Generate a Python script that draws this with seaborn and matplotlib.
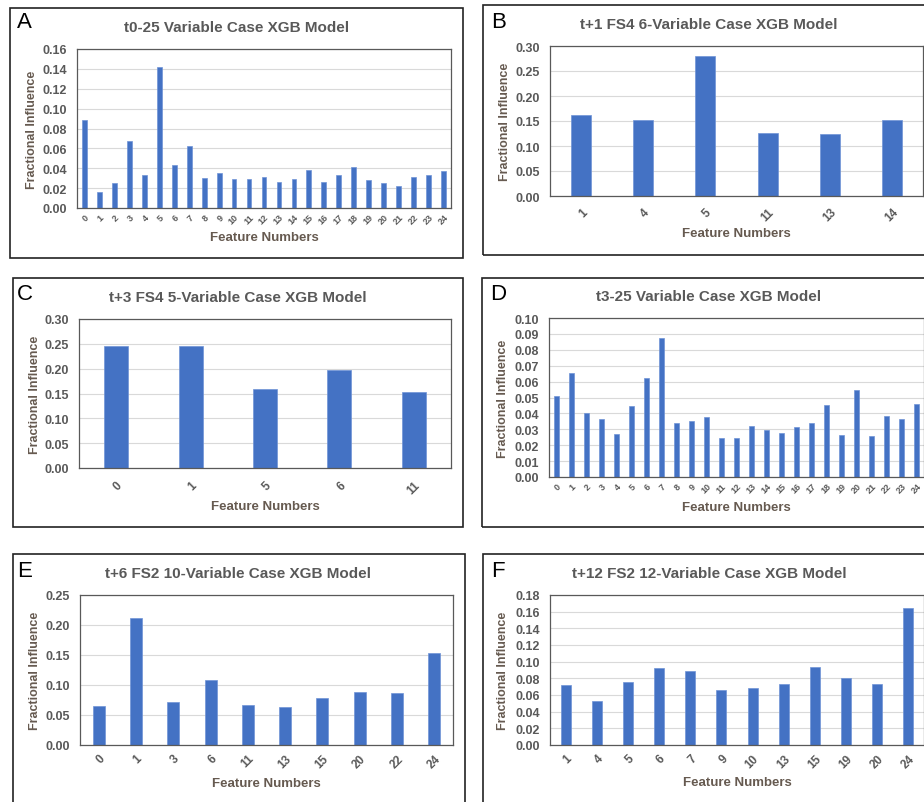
import numpy as np
import pandas as pd
import seaborn as sns
import matplotlib.pyplot as plt
from matplotlib.patches import Rectangle
from matplotlib.ticker import MultipleLocator, FormatStrFormatter

# Feature numbers and fractional influence, one pair of lists per panel
featA = ['0', '1', '2', '3', '4', '5', '6', '7', '8', '9', '10', '11', '12',
         '13', '14', '15', '16', '17', '18', '19', '20', '21', '22', '23', '24']
valsA = [0.089, 0.016, 0.025, 0.0676, 0.0328, 0.142, 0.0432, 0.0623, 0.030,
         0.035, 0.0288, 0.0295, 0.031, 0.0264, 0.0288, 0.038, 0.0264, 0.0328,
         0.0415, 0.028, 0.025, 0.0218, 0.031, 0.0328, 0.0375]

featB = ['1', '4', '5', '11', '13', '14']
valsB = [0.162, 0.153, 0.280, 0.127, 0.124, 0.153]

featC = ['0', '1', '5', '6', '11']
valsC = [0.2456, 0.2456, 0.160, 0.1966, 0.1537]

featD = ['0', '1', '2', '3', '4', '5', '6', '7', '8', '9', '10', '11', '12',
         '13', '14', '15', '16', '17', '18', '19', '20', '21', '22', '23', '24']
valsD = [0.0512, 0.0654, 0.0403, 0.0367, 0.0268, 0.0449, 0.0625, 0.0874,
         0.0338, 0.0352, 0.0377, 0.0243, 0.0243, 0.0323, 0.0298, 0.0275,
         0.0312, 0.0338, 0.0453, 0.0264, 0.0545, 0.026, 0.0384, 0.0367, 0.0461]

featE = ['0', '1', '3', '6', '11', '13', '15', '20', '22', '24']
valsE = [0.0651, 0.212, 0.0713, 0.108, 0.0674, 0.0635, 0.078, 0.0885,
         0.0874, 0.153]

featF = ['1', '4', '5', '6', '7', '9', '10', '13', '15', '19', '20', '24']
valsF = [0.0726, 0.0525, 0.0754, 0.0926, 0.0886, 0.0666, 0.0686, 0.0738,
         0.0934, 0.0802, 0.0738, 0.1648]

titles = ['t0-25 Variable Case XGB Model',
          't+1 FS4 6-Variable Case XGB Model',
          't+3 FS4 5-Variable Case XGB Model',
          't3-25 Variable Case XGB Model',
          't+6 FS2 10-Variable Case XGB Model',
          't+12 FS2 12-Variable Case XGB Model']
letters = ['A', 'B', 'C', 'D', 'E', 'F']
ymaxes = [0.16, 0.30, 0.30, 0.10, 0.25, 0.18]
ysteps = [0.02, 0.05, 0.05, 0.01, 0.05, 0.02]

sns.set_style("white")
plt.rcParams['font.family'] = ['Liberation Sans', 'DejaVu Sans']

W, H = 924, 803
fig = plt.figure(figsize=(W / 100, H / 100), dpi=100)

BAR = '#4472C4'
TXT = '#595959'
LAB = '#665a50'

# layout in pixels: box (l, t, r, b), plot area (l, t, r, b), title, letter, axis labels
boxes = [(10, 9, 463, 259), (483, 6, 940, 256), (13, 279, 463, 528),
         (482, 279, 940, 528), (13, 555, 465, 812), (483, 555, 940, 812)]
areas = [(77, 50, 451, 209), (550, 47, 923, 197), (79, 320, 451, 469),
         (549, 319, 924, 478), (80, 596, 453, 746), (550, 596, 924, 746)]
title_y = [28, 25, 298, 297, 574, 574]
title_x = [237, 709, 238, 709, 238, 709]
letter_xy = [(17, 22), (491, 22), (17, 294), (490, 295), (17, 572), (491, 572)]
xlab_y = [238, 234, 507, 508, 784, 783]
ylab_x = [32, 505, 35, 503, 35, 503]
xtick_size = [6.5, 8.5, 8.5, 6.5, 8.5, 8.5]
xtick_pad = [3, 7, 8, 3, 5, 5]

feats = [featA, featB, featC, featD, featE, featF]
vals = [valsA, valsB, valsC, valsD, valsE, valsF]

for i in range(6):
    bl, bt, br, bb = boxes[i]
    fig.patches.append(Rectangle((bl / W, 1 - bb / H), (br - bl) / W, (bb - bt) / H,
                                 transform=fig.transFigure, fill=False,
                                 edgecolor='#222222', linewidth=1.2))
    l, t, r, b = areas[i]
    ax = fig.add_axes([l / W, 1 - b / H, (r - l) / W, (b - t) / H])
    df = pd.DataFrame({'feature': feats[i], 'influence': vals[i]})
    sns.barplot(data=df, x='feature', y='influence', color=BAR, width=0.32,
                saturation=1, edgecolor='#6f93d6', linewidth=0.5, ax=ax)
    ax.set_xlim(-0.5, len(feats[i]) - 0.5)
    ax.set_ylim(0, ymaxes[i])
    ax.yaxis.set_major_locator(MultipleLocator(ysteps[i]))
    ax.yaxis.set_major_formatter(FormatStrFormatter('%.2f'))
    ax.grid(axis='y', color='#d9d9d9', linewidth=0.8)
    ax.set_axisbelow(True)
    for s in ax.spines.values():
        s.set_color('#595959')
        s.set_linewidth(0.9)
    ax.tick_params(axis='y', length=0, pad=7, labelsize=9, labelcolor=TXT)
    ax.tick_params(axis='x', length=0, pad=xtick_pad[i], labelsize=xtick_size[i],
                   labelcolor=TXT)
    for lab in ax.get_yticklabels():
        lab.set_fontweight('bold')
    for lab in ax.get_xticklabels():
        lab.set_fontweight('bold')
        lab.set_rotation(45)
        lab.set_ha('right')
        lab.set_rotation_mode('anchor')

    ax.set_xlabel('Feature Numbers', fontsize=9.5, fontweight='bold', color=LAB)
    ax.set_ylabel('Fractional Influence', fontsize=9, fontweight='bold', color=LAB)
    ax.xaxis.label.set_va('center')
    ax.yaxis.label.set_va('center')
    ax.xaxis.set_label_coords(0.5, (b - xlab_y[i]) / (b - t))
    ax.yaxis.set_label_coords((ylab_x[i] - l) / (r - l), 0.5)

    fig.text(title_x[i] / W, 1 - title_y[i] / H, titles[i], ha='center', va='center',
             fontsize=11, fontweight='bold', color=TXT)
    fig.text(letter_xy[i][0] / W, 1 - letter_xy[i][1] / H, letters[i], ha='left',
             va='center', fontsize=16, color='black')

fig.savefig('out.png', dpi=100)
